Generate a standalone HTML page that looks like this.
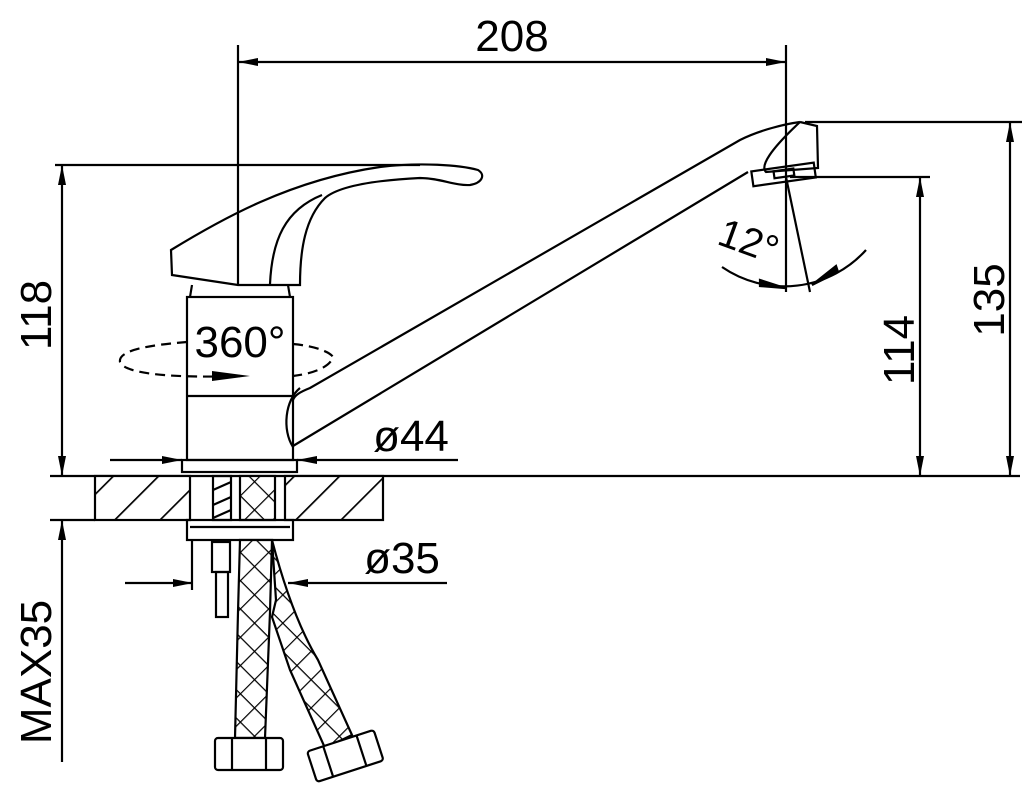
<!DOCTYPE html>
<html><head><meta charset="utf-8"><style>
html,body{margin:0;padding:0;background:#fff;}
svg{display:block;}
text{font-family:"Liberation Sans",sans-serif;fill:#000;}
</style></head><body>
<svg width="1036" height="800" viewBox="0 0 1036 800" xmlns="http://www.w3.org/2000/svg">
<defs>
<marker id="a" viewBox="0 0 20 8" refX="20" refY="4" markerWidth="20" markerHeight="8" markerUnits="userSpaceOnUse" orient="auto"><path d="M0,0 L20,4 L0,8 z" fill="#000"/></marker>
<pattern id="x" width="20" height="20" patternUnits="userSpaceOnUse" patternTransform="rotate(45)"><rect width="20" height="20" fill="#fff"/><path d="M0,0 H20 M0,0 V20" stroke="#000" stroke-width="2.4"/></pattern>
<pattern id="h" width="32" height="32" patternUnits="userSpaceOnUse" patternTransform="rotate(45)"><rect width="32" height="32" fill="#fff"/><path d="M0,0 V32" stroke="#000" stroke-width="3.4"/></pattern>
</defs>
<g stroke="#000" stroke-width="2.2" fill="none">
<line x1="238" y1="45" x2="238" y2="285"/>
<line x1="786" y1="45" x2="786" y2="292"/>
<line x1="500" y1="62" x2="238" y2="62" marker-end="url(#a)"/>
<line x1="500" y1="62" x2="786" y2="62" marker-end="url(#a)"/>
<line x1="55" y1="165" x2="420" y2="165"/>
<line x1="62" y1="320" x2="62" y2="476" marker-end="url(#a)"/>
<line x1="62" y1="320" x2="62" y2="165" marker-end="url(#a)"/>
<line x1="50" y1="476" x2="1020" y2="476"/>
<line x1="50" y1="520" x2="95" y2="520"/>
<line x1="62" y1="762" x2="62" y2="520" marker-end="url(#a)"/>
<line x1="805" y1="122" x2="1022" y2="122"/>
<line x1="1010" y1="300" x2="1010" y2="122" marker-end="url(#a)"/>
<line x1="1010" y1="300" x2="1010" y2="476" marker-end="url(#a)"/>
<line x1="790" y1="177" x2="930" y2="177"/>
<line x1="920" y1="330" x2="920" y2="177" marker-end="url(#a)"/>
<line x1="920" y1="330" x2="920" y2="476" marker-end="url(#a)"/>
<path d="M171,250 C220,220 290,180 380,167 C420,162 460,165 478,170 C486,175 482,183 470,185 C455,186 440,178 420,178 C380,180 340,185 325,198 C305,218 300,250 300,285 L238,285 L172,275 Z"/>
<path d="M270,284 C272,240 285,210 322,195"/>
<path d="M190,297 L192,285 M288,285 L290,297"/>
<rect x="187" y="297" width="106" height="163"/>
<line x1="187" y1="396" x2="293" y2="396"/>
<rect x="182" y="460" width="115" height="12"/>
<path d="M293,400 C295,395 300,392 310,388 L740,140 C760,130 785,124 800,122"/>
<path d="M293,446 L748,172"/>
<path d="M300,388 C285,400 282,430 293,447"/>
<path d="M800,122 L817,126 L818,168 L766,172 C760,166 770,150 800,122"/>
<rect x="752" y="167" width="63" height="15" transform="rotate(-8 783 174)"/>
<rect x="774" y="170" width="20" height="7" transform="rotate(-8 783 174)"/>
<line x1="786" y1="177" x2="810" y2="292"/>
<path d="M722,267 A 110 110 0 0 0 866,250"/>
<path d="M760,286 L785,288 L760,280 z" fill="#000"/>
<path d="M838,272 L812,285 L836,266 z" fill="#000"/>
<path d="M187,342 C150,345 118,350 120,362 C125,375 180,378 240,376 M293,344 C315,346 330,352 333,357 C330,368 310,374 293,376" stroke-dasharray="10,6"/>
<path d="M212,371 L250,376 L212,381 z" fill="#000" stroke="none"/>
<line x1="110" y1="460" x2="182" y2="460" marker-end="url(#a)"/>
<line x1="458" y1="460" x2="297" y2="460" marker-end="url(#a)"/>
<rect x="95" y="476" width="95" height="44" fill="url(#h)"/>
<rect x="285" y="476" width="98" height="44" fill="url(#h)"/>
<rect x="213" y="476" width="18" height="44"/>
<path d="M213,490 L231,482 M213,505 L231,497 M213,518 L231,510"/>
<rect x="240" y="476" width="35" height="44" fill="url(#x)"/>
<rect x="187" y="520" width="106" height="20"/>
<line x1="190" y1="527" x2="290" y2="527"/>
<line x1="125" y1="583" x2="193" y2="583" marker-end="url(#a)"/>
<line x1="447" y1="583" x2="288" y2="583" marker-end="url(#a)"/>
<line x1="192" y1="540" x2="192" y2="590"/>
<rect x="212" y="542" width="18" height="30"/>
<rect x="216" y="572" width="12" height="45"/>
<path d="M240,540 L272,540 L270,612 L265,738 L235,738 L238,612 Z" fill="url(#x)"/>
<path d="M272,540 C285,590 300,630 318,660 L352,735 L325,748 L290,670 L272,617 L276,600 Z" fill="url(#x)"/>
<rect x="215" y="738" width="68" height="32" rx="3" fill="#fff"/>
<line x1="232" y1="738" x2="232" y2="770"/><line x1="266" y1="738" x2="266" y2="770"/>
<g transform="rotate(-18 345 755)"><rect x="310" y="740" width="70" height="32" rx="3" fill="#fff"/><line x1="327" y1="740" x2="327" y2="772"/><line x1="362" y1="740" x2="362" y2="772"/></g>
</g>
<text x="512" y="51" font-size="44" text-anchor="middle">208</text>
<text x="0" y="0" font-size="44" text-anchor="middle" transform="translate(51,315) rotate(-90)">118</text>
<text x="0" y="0" font-size="44" text-anchor="middle" transform="translate(51,672) rotate(-90)">MAX35</text>
<text x="0" y="0" font-size="44" text-anchor="middle" transform="translate(1004,300) rotate(-90)">135</text>
<text x="0" y="0" font-size="44" text-anchor="middle" transform="translate(914,350) rotate(-90)">114</text>
<rect x="192" y="316" width="90" height="44" fill="#fff"/>
<text x="240" y="357" font-size="44" text-anchor="middle">360°</text>
<text x="411" y="451" font-size="44" text-anchor="middle">ø44</text>
<text x="402" y="573" font-size="44" text-anchor="middle">ø35</text>
<text x="0" y="0" font-size="40" text-anchor="middle" transform="translate(744,254) rotate(20)">12°</text>
</svg>
</body></html>
